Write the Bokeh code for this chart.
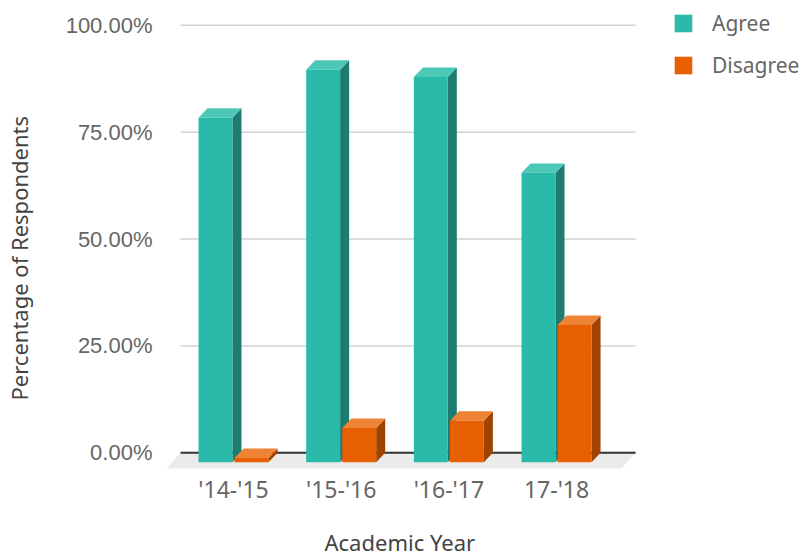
from bokeh.plotting import figure
from bokeh.models import (FixedTicker, PrintfTickFormatter, Legend, LegendItem, Range1d,
                          Title, LinearAxis)
from bokeh.embed import file_html
from bokeh.resources import INLINE

# ---------------- data ----------------
years = ["'14-'15", "'15-'16", "'16-'17", "17-'18"]
agree = [80.6, 91.8, 90.1, 67.7]
disagree = [1.0, 8.0, 9.7, 32.1]
y_ticks = [0, 25, 50, 75, 100]
series_names = ["Agree", "Disagree"]
x_title = "Academic Year"
y_title = "Percentage of Respondents"

# ---------------- geometry / style ----------------
BAR_W = 0.315      # width of a bar front face (category units)
GAP = 0.01         # half gap between the two bars of a group
DX = 0.084         # 3D depth, x (category units)
DY = 2.2           # 3D depth, y (percent units)
FLOOR_L = 0.492
FLOOR_R = 0.734
FLOOR_DX = 0.13
FLOOR_DY = 3.67

TEAL = {"front": "#29BAAA", "top": "#4CC8B7", "side": "#1D7B70"}
ORANGE = {"front": "#E75F00", "top": "#EE8336", "side": "#A04300"}

FONT = "Noto Sans"

p = figure(frame_width=644, frame_height=460, output_backend="svg", toolbar_location=None,
           x_range=Range1d(-0.678, 5.303), y_range=Range1d(-4.14, 103.46),
           min_border_left=160, min_border_right=0, min_border_top=10,
           min_border_bottom=0)
p.outline_line_color = None
p.xgrid.visible = False
p.ygrid.visible = False

n = len(years)
gx0 = -FLOOR_L
gx1 = (n - 1) + FLOOR_R

# floor
p.patch(x=[gx0 - FLOOR_DX, gx1 - FLOOR_DX, gx1, gx0],
        y=[-FLOOR_DY, -FLOOR_DY, 0, 0], fill_color="#EBEBEB", line_color=None)

# grid lines (back wall)
grid_vals = [t for t in y_ticks if t != 0]
p.segment(x0=[gx0] * len(grid_vals), x1=[gx1] * len(grid_vals), y0=grid_vals, y1=grid_vals,
          line_color="#D2D2D2", line_width=1.5)
p.segment(x0=[gx0], x1=[gx1], y0=[0], y1=[0], line_color="#333333", line_width=2)


def draw_series(values, offset, colors):
    left, right, bottom, top = [], [], [], []
    txs, tys, sxs, sys_ = [], [], [], []
    for i, v in enumerate(values):
        x0 = i + offset
        x1 = x0 + BAR_W
        left.append(x0); right.append(x1); bottom.append(-DY); top.append(v - DY)
        txs.append([x0, x1, x1 + DX, x0 + DX]); tys.append([v - DY, v - DY, v, v])
        sxs.append([x1, x1 + DX, x1 + DX, x1]); sys_.append([-DY, 0, v, v - DY])
    p.patches(xs=sxs, ys=sys_, fill_color=colors["side"], line_color=None)
    p.patches(xs=txs, ys=tys, fill_color=colors["top"], line_color=None)
    return p.quad(left=left, right=right, bottom=bottom, top=top,
                  fill_color=colors["front"], line_color=None)


r_agree = draw_series(agree, -GAP - BAR_W, TEAL)
r_dis = draw_series(disagree, GAP, ORANGE)

# y axis
yax = p.yaxis[0]
yax.ticker = FixedTicker(ticks=y_ticks)
yax.formatter = PrintfTickFormatter(format="%.2f%%")
yax.axis_line_color = None
yax.major_tick_line_color = None
yax.minor_tick_line_color = None
yax.major_tick_out = 0
yax.major_tick_in = 0
yax.major_label_standoff = 8
yax.major_label_text_font = "Liberation Sans"
yax.major_label_text_font_size = "22px"
yax.major_label_text_color = "#666666"

# x axis
xax = p.xaxis[0]
xax.ticker = FixedTicker(ticks=list(range(n)))
xax.major_label_overrides = {i: years[i] for i in range(n)}
xax.axis_line_color = None
xax.major_tick_line_color = None
xax.minor_tick_line_color = None
xax.major_tick_out = 0
xax.major_tick_in = 0
xax.major_label_standoff = 2
xax.major_label_text_font = FONT
xax.major_label_text_font_size = "23px"
xax.major_label_text_color = "#666666"


def spacer(size, tick):
    # an invisible axis that only reserves space between tick labels and axis title
    return LinearAxis(ticker=FixedTicker(ticks=[tick]), major_label_overrides={tick: ""},
                      axis_line_color=None, major_tick_line_color=None,
                      minor_tick_line_color=None, major_tick_in=0, major_tick_out=size,
                      major_label_standoff=0, major_label_text_font_size="1px")


p.add_layout(spacer(29, 50), "left")
p.add_layout(spacer(17, 1), "below")

# axis titles
ytitle = Title(text=y_title, align="left", offset=70,
               text_font=FONT, text_font_size="22px", text_font_style="normal",
               text_color="#444444", standoff=0)
p.add_layout(ytitle, "left")
xtitle = Title(text=x_title, align="left", offset=164,
               text_font=FONT, text_font_size="22px", text_font_style="normal",
               text_color="#444444", standoff=0)
p.add_layout(xtitle, "below")

legend = Legend(items=[LegendItem(label=series_names[0], renderers=[r_agree]),
                       LegendItem(label=series_names[1], renderers=[r_dis])],
                location=(512, 391), orientation="vertical",
                glyph_width=22, glyph_height=22, label_height=22, label_standoff=18,
                spacing=14, padding=0, margin=0, border_line_color=None,
                background_fill_alpha=0, label_text_font=FONT,
                label_text_font_size="21px", label_text_color="#666666")
p.add_layout(legend)

open("out.html", "w").write(file_html(p, INLINE))
